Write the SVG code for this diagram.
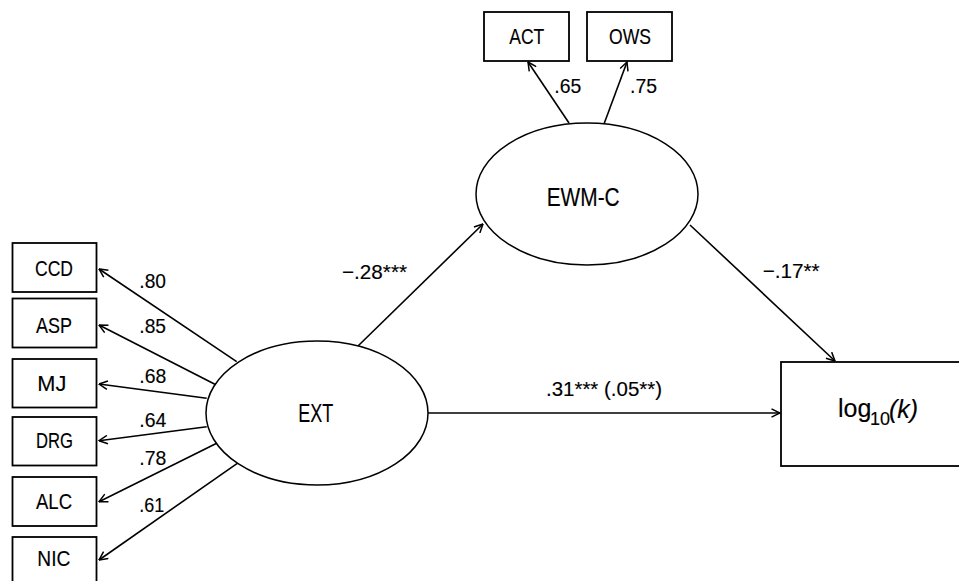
<svg xmlns="http://www.w3.org/2000/svg" width="959" height="581" viewBox="0 0 959 581">
<style>
.box{fill:#fff;stroke:#000;stroke-width:1.8}
.ell{fill:#fff;stroke:#000;stroke-width:1.5}
.edge{fill:none;stroke:#000;stroke-width:1.6;marker-end:url(#arr)}
text{font-family:"Liberation Sans",Arial,sans-serif;fill:#000;stroke:#000;stroke-width:0.15}
.bl{font-size:22px}
.nl{font-size:26px}
.el{font-size:21px}
</style>
<defs>
<marker id="arr" viewBox="0 0 10 10" refX="9.5" refY="5" markerWidth="10" markerHeight="10" markerUnits="userSpaceOnUse" orient="auto">
<path d="M1,0.8 L9.5,5 L1,9.2" fill="none" stroke="#000" stroke-width="1.5"/>
</marker>
</defs>
<rect width="959" height="581" fill="#fff"/>
<g id="connectors">
<line class="edge" x1="236.7" y1="361.7" x2="99" y2="269"/>
<line class="edge" x1="218.3" y1="386" x2="99" y2="325"/>
<line class="edge" x1="206.7" y1="398.3" x2="99" y2="384"/>
<line class="edge" x1="206.7" y1="426.7" x2="99" y2="440.7"/>
<line class="edge" x1="216.7" y1="443.3" x2="99" y2="501.7"/>
<line class="edge" x1="237.3" y1="463.3" x2="99" y2="560"/>
<line class="edge" x1="569" y1="123" x2="528" y2="62"/>
<line class="edge" x1="604" y1="124" x2="627" y2="62"/>
<line class="edge" x1="358" y1="346" x2="483" y2="224"/>
<line class="edge" x1="690" y1="225" x2="835" y2="361"/>
<line class="edge" x1="428" y1="413" x2="780" y2="413"/>
<text class="el" x="139.3" y="288" textLength="26.7" lengthAdjust="spacingAndGlyphs">.80</text>
<text class="el" x="139.3" y="333" textLength="26.7" lengthAdjust="spacingAndGlyphs">.85</text>
<text class="el" x="139.3" y="383" textLength="27" lengthAdjust="spacingAndGlyphs">.68</text>
<text class="el" x="139.3" y="427" textLength="27" lengthAdjust="spacingAndGlyphs">.64</text>
<text class="el" x="139.3" y="465" textLength="27" lengthAdjust="spacingAndGlyphs">.78</text>
<text class="el" x="139.3" y="512" textLength="25" lengthAdjust="spacingAndGlyphs">.61</text>
<text class="el" x="554.3" y="93" textLength="27" lengthAdjust="spacingAndGlyphs">.65</text>
<text class="el" x="630" y="93" textLength="27" lengthAdjust="spacingAndGlyphs">.75</text>
<text class="el" x="342" y="279" textLength="65" lengthAdjust="spacingAndGlyphs">−.28***</text>
<text class="el" x="762.7" y="278" textLength="57" lengthAdjust="spacingAndGlyphs">−.17**</text>
<text class="el" x="546" y="396" textLength="116" lengthAdjust="spacingAndGlyphs">.31*** (.05**)</text>
</g>
<g id="CCD"><rect class="box" x="12.5" y="243" width="84" height="49"/><text class="bl" x="35" y="276" textLength="38" lengthAdjust="spacingAndGlyphs">CCD</text></g>
<g id="ASP"><rect class="box" x="12.5" y="298.5" width="84" height="49"/><text class="bl" x="36" y="333" textLength="36" lengthAdjust="spacingAndGlyphs">ASP</text></g>
<g id="MJ"><rect class="box" x="12.5" y="359" width="84" height="48.5"/><text class="bl" x="37.3" y="391" textLength="29" lengthAdjust="spacingAndGlyphs">MJ</text></g>
<g id="DRG"><rect class="box" x="12.5" y="417" width="84" height="48.5"/><text class="bl" x="36" y="448" textLength="37" lengthAdjust="spacingAndGlyphs">DRG</text></g>
<g id="ALC"><rect class="box" x="12.5" y="477" width="84" height="49"/><text class="bl" x="36" y="509" textLength="36" lengthAdjust="spacingAndGlyphs">ALC</text></g>
<g id="NIC"><rect class="box" x="12.5" y="537" width="84" height="49"/><text class="bl" x="37.3" y="566" textLength="33" lengthAdjust="spacingAndGlyphs">NIC</text></g>
<g id="ACT"><rect class="box" x="484" y="12" width="85" height="49"/><text class="bl" x="509.3" y="44" textLength="35" lengthAdjust="spacingAndGlyphs">ACT</text></g>
<g id="OWS"><rect class="box" x="587" y="12" width="85" height="49"/><text class="bl" x="609" y="44" textLength="42" lengthAdjust="spacingAndGlyphs">OWS</text></g>
<g id="EXT"><ellipse class="ell" cx="317" cy="413" rx="111" ry="72"/><text class="nl" x="298.3" y="422" textLength="35" lengthAdjust="spacingAndGlyphs">EXT</text></g>
<g id="EWM-C"><ellipse class="ell" cx="587" cy="194" rx="111" ry="71"/><text class="nl" x="546.7" y="206" textLength="73" lengthAdjust="spacingAndGlyphs">EWM-C</text></g>
<g id="logk"><rect class="box" x="781" y="362" width="190" height="104"/><text x="838" y="417" font-size="25">log<tspan x="870" y="425" font-size="18">10</tspan><tspan x="889" y="418" font-style="italic">(k)</tspan></text></g>
</svg>
